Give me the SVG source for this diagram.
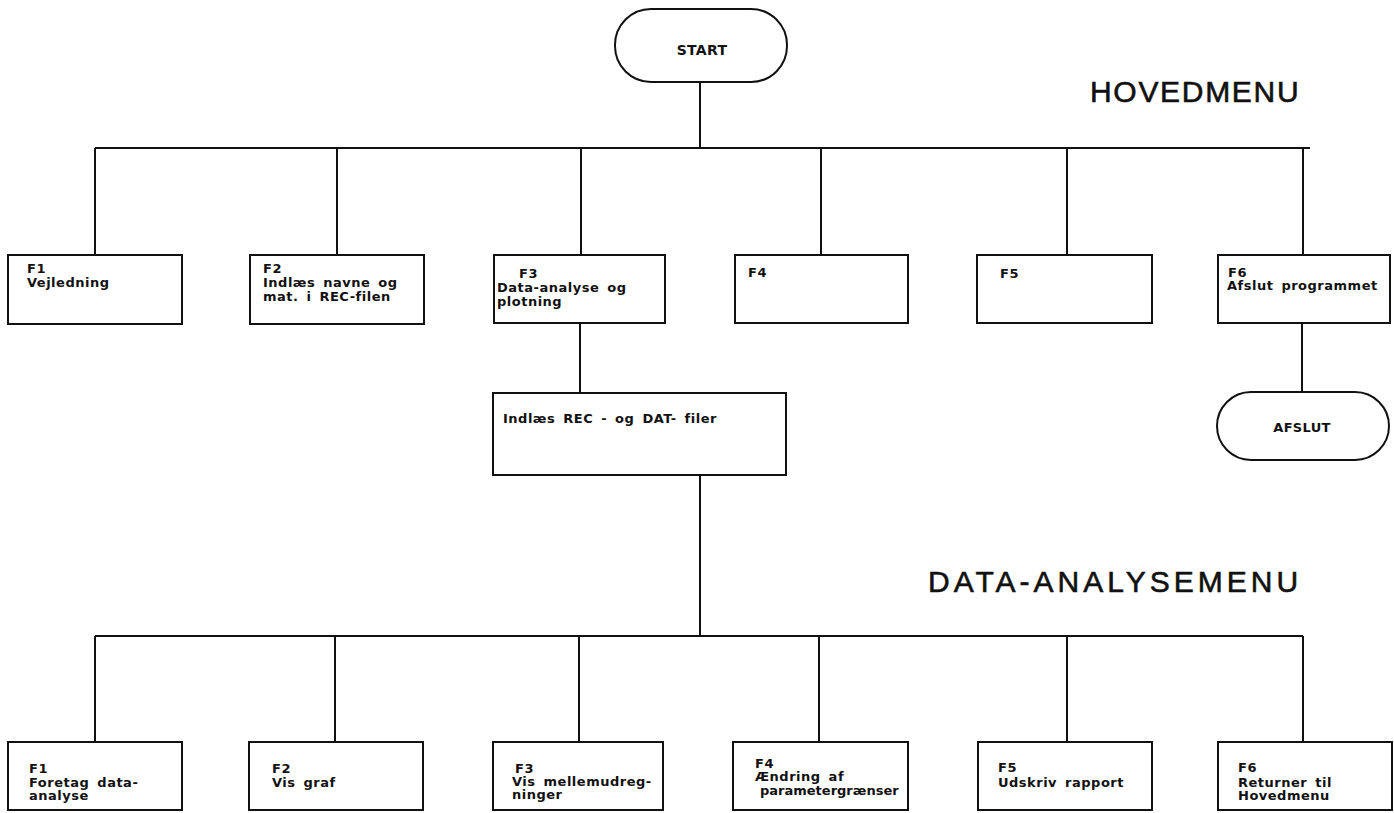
<svg xmlns="http://www.w3.org/2000/svg" width="1394" height="813" viewBox="0 0 1394 813">
<style>
.bg{fill:#fff}
.box{fill:#fff;stroke:#111;stroke-width:2}
.wire{fill:none;stroke:#111;stroke-width:2}
.t{font-family:"DejaVu Sans","Liberation Sans",sans-serif;font-weight:bold;font-size:13px;fill:#111;letter-spacing:0.5px;word-spacing:3px}
.term{font-family:"DejaVu Sans","Liberation Sans",sans-serif;font-weight:bold;font-size:14px;fill:#111;text-anchor:middle;letter-spacing:0.3px}
.title{font-family:"Liberation Sans","DejaVu Sans",sans-serif;font-size:30px;fill:#111;stroke:#111;stroke-width:0.6px}
</style>
<rect class="bg" x="0" y="0" width="1394" height="813"/>
<g id="connectors">
<path class="wire" d="M700 82V148M95 148H1310M95 148V255M337 148V255M581 148V255M821 148V255M1067 148V255M1303 148V255"/>
<path class="wire" d="M1302 323V392M580 323V393M700 475V636"/>
<path class="wire" d="M95 636H1303M95 636V742M335 636V742M579 636V742M819 636V742M1067 636V742M1303 636V742"/>
</g>
<g id="start"><rect class="box" x="615" y="9" width="172" height="73" rx="36"/><text class="term" x="702" y="55">START</text></g>
<text class="title" x="1090" y="102" style="letter-spacing:1.7px">HOVEDMENU</text>
<text class="title" x="928" y="592" style="letter-spacing:4px">DATA-ANALYSEMENU</text>
<g id="m1"><rect class="box" x="8" y="255" width="174" height="69"/><text class="t" x="27" y="273">F1</text><text class="t" x="27" y="287">Vejledning</text></g>
<g id="m2"><rect class="box" x="250" y="255" width="174" height="69"/><text class="t" x="263" y="273">F2</text><text class="t" x="263" y="287">Indlæs navne og</text><text class="t" x="263" y="301">mat. i REC-filen</text></g>
<g id="m3"><rect class="box" x="494" y="255" width="171" height="68"/><text class="t" x="519" y="278">F3</text><text class="t" x="497" y="292">Data-analyse og</text><text class="t" x="497" y="306">plotning</text></g>
<g id="m4"><rect class="box" x="735" y="255" width="173" height="68"/><text class="t" x="748" y="277">F4</text></g>
<g id="m5"><rect class="box" x="977" y="255" width="175" height="68"/><text class="t" x="1000" y="278">F5</text></g>
<g id="m6"><rect class="box" x="1218" y="255" width="172" height="68"/><text class="t" x="1228" y="277">F6</text><text class="t" x="1227" y="290">Afslut programmet</text></g>
<g id="afslut"><rect class="box" x="1217" y="392" width="172" height="68" rx="34"/><text class="term" x="1302" y="432" style="font-size:13px">AFSLUT</text></g>
<g id="load"><rect class="box" x="493" y="393" width="293" height="82"/><text class="t" x="503" y="423">Indlæs REC - og DAT- filer</text></g>
<g id="d1"><rect class="box" x="8" y="742" width="174" height="68"/><text class="t" x="29" y="773">F1</text><text class="t" x="29" y="787">Foretag data-</text><text class="t" x="29" y="800">analyse</text></g>
<g id="d2"><rect class="box" x="249" y="742" width="174" height="68"/><text class="t" x="272" y="773">F2</text><text class="t" x="272" y="787">Vis graf</text></g>
<g id="d3"><rect class="box" x="493" y="742" width="170" height="68"/><text class="t" x="515" y="773">F3</text><text class="t" x="512" y="786">Vis mellemudreg-</text><text class="t" x="512" y="799">ninger</text></g>
<g id="d4"><rect class="box" x="733" y="742" width="175" height="68"/><text class="t" x="755" y="768">F4</text><text class="t" x="755" y="781">Ændring af</text><text class="t" x="760" y="795" style="letter-spacing:0px">parametergrænser</text></g>
<g id="d5"><rect class="box" x="978" y="742" width="174" height="68"/><text class="t" x="998" y="772">F5</text><text class="t" x="998" y="787">Udskriv rapport</text></g>
<g id="d6"><rect class="box" x="1218" y="742" width="174" height="68"/><text class="t" x="1238" y="772">F6</text><text class="t" x="1238" y="787">Returner til</text><text class="t" x="1238" y="800">Hovedmenu</text></g>
</svg>
